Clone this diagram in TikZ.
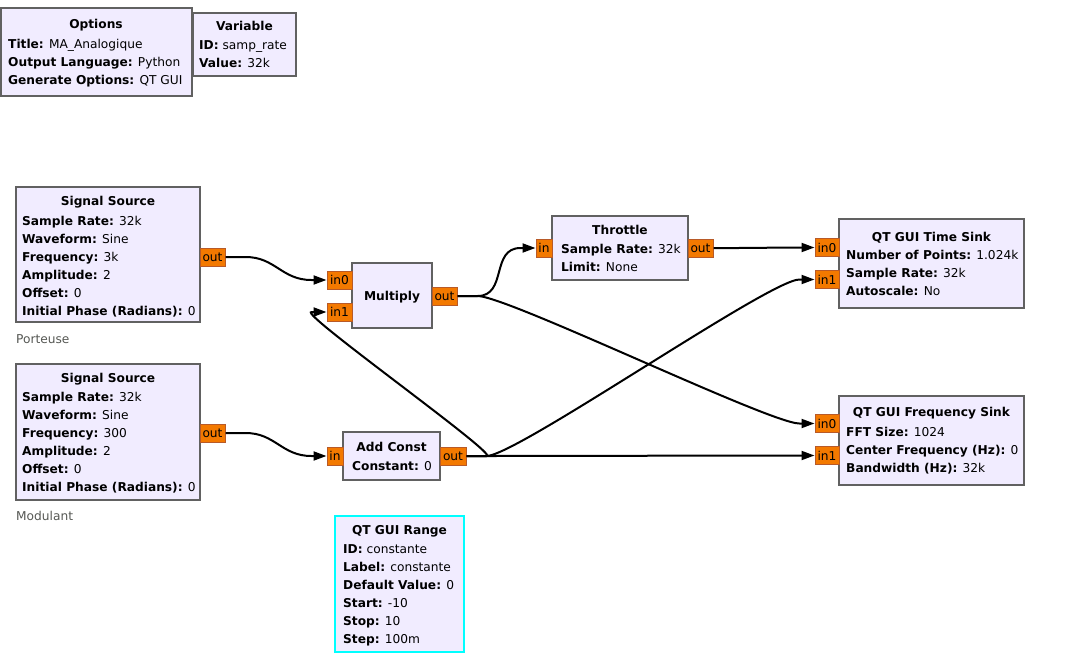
\documentclass[tikz,border=0pt]{standalone}
\usepackage{fontspec}
\setmainfont{DejaVu Sans}
\usetikzlibrary{arrows.meta,calc}
\definecolor{blkfill}{HTML}{F1ECFF}
\definecolor{blkline}{HTML}{616161}
\definecolor{portfill}{HTML}{F37900}
\definecolor{portline}{HTML}{B85A28}
\definecolor{lblgray}{HTML}{555753}
\definecolor{rangeline}{HTML}{00FFFF}
\newcommand\kv[2]{\textbf{#1:} #2}
\newcommand\plines[4]{\foreach[count=\i] \t in {#4}{\node[prm] (#1\i) at (#2,{-#3-18*(\i-1)}) {\t};}}
\newcommand\wire[3][30]{\draw[wire] (#2.east) -- ++(20,0) .. controls +(#1,0) and +(-#1,0) .. ($(#3.west)+(-15,0)$) -- (#3.west);}
\begin{document}
\begin{tikzpicture}[x=1pt,y=1pt,
  font=\fontsize{12.2}{14}\selectfont,
  blk/.style={draw=blkline, fill=blkfill, line width=2pt, inner sep=0pt, outer sep=0pt, anchor=north west},
  ttl/.style={anchor=base, inner sep=0pt, font=\fontsize{12.2}{14}\selectfont\bfseries},
  prm/.style={anchor=base west, inner sep=0pt},
  lbl/.style={anchor=base west, inner sep=0pt, text=lblgray},
  port/.style={draw=portline, fill=portfill, line width=1pt, inner sep=0pt, minimum height=18pt},
  wire/.style={draw=black, line width=2pt, -{Triangle[length=13pt,width=9pt]}},
]
\useasboundingbox (0,0) rectangle (1082,-662);

% Options
\node[blk, minimum width=191pt, minimum height=88pt] (opt) at (1,-8) {};
\node[ttl] (optt) at (96,-28) {Options};
\plines{optp}{8}{48}{\kv{Title}{MA\_Analogique},\kv{Output Language}{Python},\kv{Generate Options}{QT GUI}}

% Variable
\node[blk, minimum width=103pt, minimum height=63pt] (var) at (193,-13) {};
\node[ttl] (vart) at (244.5,-30) {Variable};
\plines{varp}{199}{49}{\kv{ID}{samp\_rate},\kv{Value}{32k}}

% Signal Source 1
\node[blk, minimum width=184pt, minimum height=135pt] (ss1) at (16,-187) {};
\node[ttl] (ss1t) at (108,-205) {Signal Source};
\plines{ss1p}{22}{225}{\kv{Sample Rate}{32k},\kv{Waveform}{Sine},\kv{Frequency}{3k},\kv{Amplitude}{2},\kv{Offset}{0},\kv{Initial Phase (Radians)}{0}}
\node[lbl] (ss1l) at (16,-343) {Porteuse};
\node[port, minimum width=25pt] (ss1o) at (212.5,-257) {out};

% Signal Source 2
\node[blk, minimum width=184pt, minimum height=136pt] (ss2) at (16,-364) {};
\node[ttl] (ss2t) at (108,-382) {Signal Source};
\plines{ss2p}{22}{401}{\kv{Sample Rate}{32k},\kv{Waveform}{Sine},\kv{Frequency}{300},\kv{Amplitude}{2},\kv{Offset}{0},\kv{Initial Phase (Radians)}{0}}
\node[lbl] (ss2l) at (16,-520) {Modulant};
\node[port, minimum width=25pt] (ss2o) at (212.5,-433) {out};

% Multiply
\node[blk, minimum width=80pt, minimum height=65pt] (mul) at (352,-263) {};
\node[ttl] (mult) at (392,-300) {Multiply};
\node[port, minimum width=25pt] (mi0) at (339.5,-280) {in0};
\node[port, minimum width=25pt] (mi1) at (339.5,-312) {in1};
\node[port, minimum width=25pt] (mo) at (444.5,-296) {out};

% Throttle
\node[blk, minimum width=136pt, minimum height=64pt] (thr) at (552,-216) {};
\node[ttl] (thrt) at (620,-234) {Throttle};
\plines{thrp}{561}{253}{\kv{Sample Rate}{32k},\kv{Limit}{None}}
\node[port, minimum width=16pt] (ti) at (544,-248) {in};
\node[port, minimum width=25pt] (to) at (700.5,-248) {out};

% QT GUI Time Sink
\node[blk, minimum width=185pt, minimum height=89pt] (ts) at (839,-219) {};
\node[ttl] (tst) at (931.5,-241) {QT GUI Time Sink};
\plines{tsp}{846}{259}{\kv{Number of Points}{1.024k},\kv{Sample Rate}{32k},\kv{Autoscale}{No}}
\node[port, minimum width=24pt] (tsi0) at (827,-247.5) {in0};
\node[port, minimum width=24pt] (tsi1) at (827,-279.5) {in1};

% QT GUI Frequency Sink
\node[blk, minimum width=185pt, minimum height=89pt] (fs) at (839,-396) {};
\node[ttl] (fst) at (931.5,-416) {QT GUI Frequency Sink};
\plines{fsp}{846}{436}{\kv{FFT Size}{1024},\kv{Center Frequency (Hz)}{0},\kv{Bandwidth (Hz)}{32k}}
\node[port, minimum width=24pt] (fsi0) at (827,-423.5) {in0};
\node[port, minimum width=24pt] (fsi1) at (827,-455.5) {in1};

% Add Const
\node[blk, minimum width=97pt, minimum height=48pt] (ac) at (343,-432) {};
\node[ttl] (act) at (391.5,-451) {Add Const};
\plines{acp}{352}{470}{\kv{Constant}{0}}
\node[port, minimum width=16pt] (aci) at (335,-456) {in};
\node[port, minimum width=26pt] (aco) at (453,-456) {out};

% QT GUI Range
\node[blk, draw=rangeline, minimum width=129pt, minimum height=136pt] (rng) at (335,-516) {};
\node[ttl] (rngt) at (399.5,-534) {QT GUI Range};
\plines{rngp}{343}{553}{\kv{ID}{constante},\kv{Label}{constante},\kv{Default Value}{0},\kv{Start}{-10},\kv{Stop}{10},\kv{Step}{100m}}

% Connections
\wire{ss1o}{mi0}
\wire{ss2o}{aci}
\wire{mo}{ti}
\wire{mo}{fsi0}
\wire{to}{tsi0}
\wire{aco}{tsi1}
\wire{aco}{fsi1}
\wire[14]{aco}{mi1}
\end{tikzpicture}
\end{document}
